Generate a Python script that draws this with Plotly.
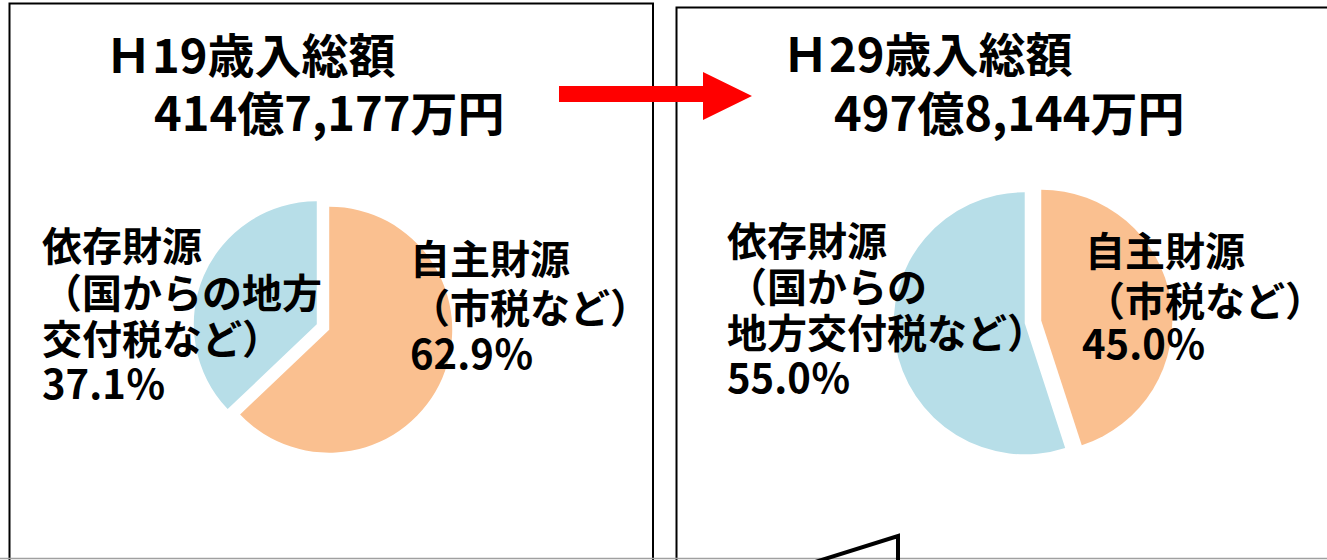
import plotly.graph_objects as go

W, H = 1327, 560

# ---- data ----
categories = ["自主財源", "依存財源"]
h19_values = [62.9, 37.1]
h29_values = [45.0, 55.0]
colors = ["#FAC090", "#B7DEE8"]

h19_title = ["Ｈ19歳入総額", "414億7,177万円"]
h29_title = ["Ｈ29歳入総額", "497億8,144万円"]
h19_dep_label = ["依存財源", "（国からの地方", "交付税など）"]
h19_own_label = ["自主財源", "（市税など）"]
h29_dep_label = ["依存財源", "（国からの", "地方交付税など）"]
h29_own_label = ["自主財源", "（市税など）"]

FONT = "Noto Sans CJK JP"


def px(x):
    return x / W


def py(y):
    return 1 - y / H


def pie_domain(cx, cy, r, pull):
    half = r * (1 + pull)
    return dict(x=[px(cx - half), px(cx + half)], y=[py(cy + half), py(cy - half)])


fig = go.Figure()

pie_specs = [
    (h19_values, 323, 327, 123, 0.055),
    (h29_values, 1033, 322, 131, 0.064),
]
for vals, cx, cy, r, pull in pie_specs:
    fig.add_trace(go.Pie(
        labels=categories, values=vals, sort=False, direction="clockwise",
        rotation=0, pull=[pull, pull], marker=dict(colors=colors, line=dict(width=0)),
        textinfo="none", hoverinfo="label+percent", domain=pie_domain(cx, cy, r, pull),
        showlegend=False,
    ))

annotations = []


def add_text(text, x, y, size):
    annotations.append(dict(
        text="<b>" + text + "</b>", x=px(x), y=py(y), xref="paper", yref="paper",
        xanchor="left", yanchor="middle", showarrow=False,
        font=dict(family=FONT, size=size, color="black"),
    ))


TS = 47
LS = 40
# titles
add_text(h19_title[0], 103, 52, TS)
add_text(h19_title[1], 152, 111, TS)
add_text(h29_title[0], 780, 51, TS)
add_text(h29_title[1], 832, 111, TS)

# H19 labels
for i, t in enumerate(h19_dep_label):
    add_text(t, 40, 244 + 46.5 * i, LS)
add_text(f"{h19_values[1]:.1f}％", 40, 382, LS)
for i, t in enumerate(h19_own_label):
    add_text(t, 408, 257 + 49 * i, LS)
add_text(f"{h19_values[0]:.1f}％", 408, 352, LS)

# H29 labels
for i, t in enumerate(h29_dep_label):
    add_text(t, 725, 239 + 46 * i, LS)
add_text(f"{h29_values[1]:.1f}％", 725, 376, LS)
for i, t in enumerate(h29_own_label):
    add_text(t, 1083, 249 + 50 * i, LS)
add_text(f"{h29_values[0]:.1f}％", 1080, 342, LS)


def path(points, close=False):
    s = "M " + " L ".join(f"{px(x):.5f},{py(y):.5f}" for x, y in points)
    return s + (" Z" if close else "")


shapes = [
    # panel frames (open at bottom)
    dict(type="path", path=path([(9.5, 575), (9.5, 3.5), (653, 3.5), (653, 575)]),
         xref="paper", yref="paper", line=dict(color="black", width=2)),
    dict(type="path", path=path([(676.5, 575), (676.5, 7.5), (1340, 7.5)]),
         xref="paper", yref="paper", line=dict(color="black", width=2)),
    # bottom grey rule
    dict(type="line", x0=0, x1=1, y0=py(558.5), y1=py(558.5), xref="paper", yref="paper",
         line=dict(color="#A0A0A0", width=1.5)),
    # red arrow
    dict(type="path", path=path([(559, 86), (703, 86), (703, 72), (752, 96), (703, 120),
                                  (703, 102), (559, 102)], close=True),
         xref="paper", yref="paper", fillcolor="#FF0000", line=dict(width=0)),
    # callout tail at bottom
    dict(type="path", path=path([(812, 563), (898, 536), (898, 563)]),
         xref="paper", yref="paper", line=dict(color="black", width=4)),
]

fig.update_layout(
    width=W, height=H, margin=dict(l=0, r=0, t=0, b=0),
    paper_bgcolor="white", plot_bgcolor="white",
    annotations=annotations, shapes=shapes, showlegend=False,
)

fig.write_html(
    "out.html",
    config={"displayModeBar": False},
    post_script="document.body.style.margin='0';document.body.style.overflow='hidden';",
)
